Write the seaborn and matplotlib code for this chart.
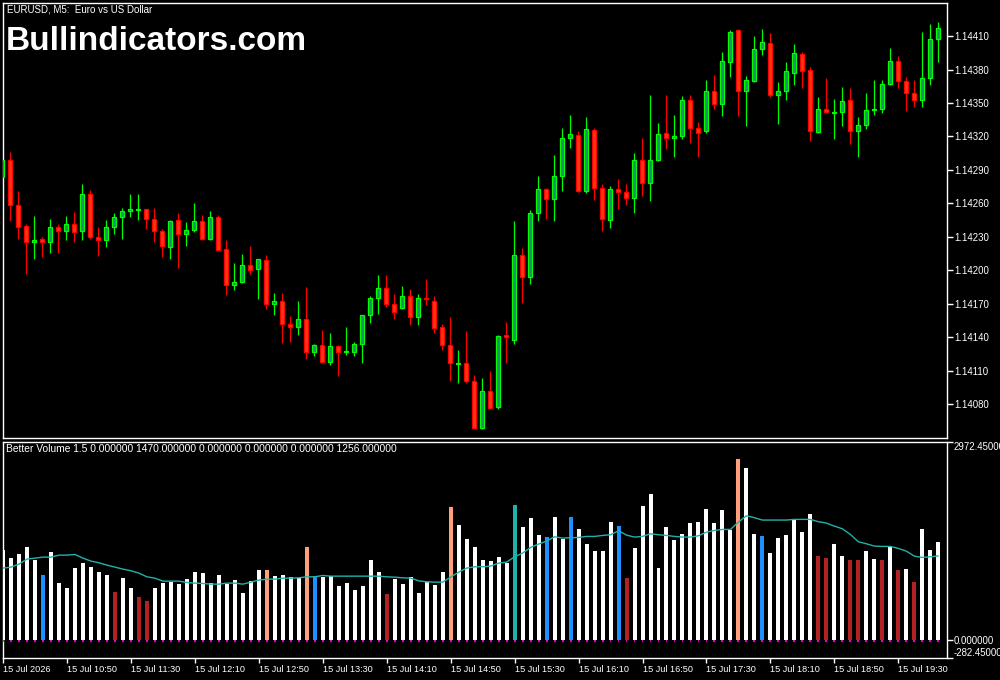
import matplotlib
matplotlib.use("Agg")
import matplotlib.pyplot as plt
import numpy as np
import pandas as pd
import seaborn as sns

# EURUSD M5 candles, prices in points (1e-5) above 1.14000
BASE = 1.14
open_pts = [284, 299, 259, 240, 225, 228, 225, 239, 235, 242,
            235, 268, 230, 227, 239, 248, 253, 254, 255, 246,
            235, 221, 245, 233, 236, 244, 228, 248, 219, 187,
            190, 205, 201, 209, 170, 173, 152, 149, 156, 127,
            133, 118, 132, 127, 127, 134, 160, 175, 184, 170,
            166, 177, 158, 175, 173, 149, 133, 116, 117, 101,
            59, 92, 78, 142, 138, 214, 194, 251, 273, 264,
            285, 319, 321, 271, 326, 274, 245, 273, 270, 265,
            299, 278, 299, 323, 319, 320, 353, 328, 325, 361,
            349, 387, 415, 361, 370, 398, 404, 357, 361, 377,
            394, 380, 324, 345, 341, 342, 353, 325, 330, 344,
            345, 367, 388, 370, 359, 353, 372, 407]
high_pts = [300, 306, 271, 242, 249, 230, 246, 242, 249, 252,
            277, 272, 239, 245, 251, 256, 268, 268, 255, 256,
            237, 245, 251, 243, 260, 250, 253, 250, 227, 207,
            215, 222, 210, 214, 180, 180, 159, 173, 185, 134,
            147, 144, 133, 149, 136, 160, 177, 196, 196, 179,
            186, 183, 179, 192, 177, 152, 158, 129, 146, 106,
            104, 110, 142, 154, 244, 220, 254, 285, 274, 303,
            328, 339, 325, 337, 328, 277, 276, 282, 277, 305,
            319, 357, 332, 357, 339, 356, 357, 333, 371, 375,
            396, 415, 416, 374, 410, 416, 413, 369, 387, 403,
            396, 382, 355, 372, 354, 364, 363, 337, 359, 371,
            371, 399, 392, 373, 371, 414, 421, 423]
low_pts = [283, 244, 228, 197, 210, 212, 216, 216, 227, 225,
           227, 228, 213, 221, 233, 228, 248, 245, 237, 225,
           212, 210, 202, 222, 234, 227, 227, 217, 178, 182,
           189, 197, 174, 165, 160, 135, 136, 142, 121, 123,
           117, 115, 105, 124, 123, 117, 153, 161, 167, 156,
           165, 151, 151, 169, 144, 129, 101, 99, 99, 58,
           58, 76, 76, 117, 134, 171, 188, 244, 246, 244,
           271, 310, 270, 269, 263, 235, 238, 255, 259, 251,
           267, 262, 298, 309, 302, 318, 314, 302, 323, 345,
           338, 373, 338, 329, 369, 393, 355, 331, 353, 366,
           363, 316, 323, 341, 318, 329, 313, 302, 327, 339,
           341, 366, 363, 343, 346, 346, 366, 387]
close_pts = [299, 259, 239, 225, 227, 225, 239, 235, 242, 234,
             268, 230, 227, 239, 248, 253, 255, 255, 246, 235,
             222, 244, 233, 236, 244, 228, 248, 218, 187, 190,
             205, 200, 210, 170, 173, 152, 149, 156, 127, 133,
             118, 132, 127, 128, 134, 160, 175, 184, 170, 163,
             177, 158, 175, 174, 148, 133, 117, 117, 101, 59,
             92, 77, 141, 140, 214, 194, 251, 273, 264, 285,
             319, 322, 271, 327, 274, 246, 273, 270, 265, 299,
             278, 299, 322, 319, 320, 353, 328, 323, 361, 349,
             388, 414, 361, 371, 398, 405, 357, 361, 379, 395,
             379, 325, 345, 342, 342, 352, 325, 330, 344, 345,
             367, 388, 370, 359, 353, 372, 407, 417]

# Better Volume histogram and its average
volume = [1343, 1228, 1283, 1389, 1193, 968, 1313, 847, 772, 1073,
          1148, 1093, 1013, 968, 712, 922, 772, 637, 576, 772,
          847, 867, 832, 907, 1013, 998, 847, 968, 832, 892,
          697, 877, 1043, 1043, 952, 968, 937, 922, 1389, 952,
          937, 952, 802, 847, 742, 802, 1193, 1013, 682, 907,
          832, 937, 697, 862, 817, 1013, 1990, 1719, 1509, 1389,
          1193, 1178, 1238, 1148, 2020, 1689, 1825, 1569, 1539, 1840,
          1514, 1840, 1659, 1434, 1328, 1328, 1765, 1704, 922, 1374,
          2005, 2186, 1073, 1689, 1494, 1584, 1750, 1765, 1960, 1750,
          1945, 1644, 2712, 2577, 1584, 1554, 1298, 1524, 1569, 1795,
          1614, 1885, 1253, 1223, 1434, 1253, 1193, 1193, 1328, 1208,
          1193, 1394, 1043, 1058, 862, 1659, 1343, 1470]
volume_ma = [1073, 1088, 1133, 1208, 1223, 1238, 1238, 1268, 1268, 1278,
             1223, 1178, 1153, 1118, 1088, 1058, 1033, 998, 942, 922,
             877, 877, 877, 857, 847, 842, 832, 832, 847, 847,
             832, 862, 892, 907, 907, 922, 922, 927, 942, 942,
             962, 952, 952, 952, 952, 952, 952, 952, 942, 937,
             927, 922, 882, 867, 862, 862, 937, 1013, 1073, 1093,
             1093, 1103, 1148, 1163, 1243, 1298, 1384, 1434, 1479, 1544,
             1524, 1529, 1534, 1549, 1549, 1564, 1574, 1634, 1569, 1539,
             1549, 1589, 1574, 1564, 1549, 1539, 1539, 1559, 1614, 1639,
             1654, 1654, 1765, 1860, 1830, 1795, 1795, 1795, 1795, 1805,
             1805, 1805, 1770, 1750, 1704, 1664, 1579, 1469, 1439, 1404,
             1399, 1399, 1369, 1328, 1253, 1233, 1243, 1256]
blue_bars = [5, 39, 68, 71, 77, 95]
red_bars = [14, 17, 18, 48, 78, 102, 103, 106, 107, 110, 112, 114]
salmon_bars = [33, 38, 56, 92]
teal_bars = [64]

time_labels = ["15 Jul 2026", "15 Jul 10:50", "15 Jul 11:30", "15 Jul 12:10",
               "15 Jul 12:50", "15 Jul 13:30", "15 Jul 14:10", "15 Jul 14:50",
               "15 Jul 15:30", "15 Jul 16:10", "15 Jul 16:50", "15 Jul 17:30",
               "15 Jul 18:10", "15 Jul 18:50", "15 Jul 19:30"]
price_ticks = [1.14080, 1.14110, 1.14140, 1.14170, 1.14200, 1.14230,
               1.14260, 1.14290, 1.14320, 1.14350, 1.14380, 1.14410]
vol_ticks = [-282.45, 0.0, 2972.45]

sns.set_style("dark", {"axes.facecolor": "black", "figure.facecolor": "black"})
plt.rcParams['font.family'] = ['Liberation Sans', 'DejaVu Sans']

df = pd.DataFrame({'o': open_pts, 'h': high_pts, 'l': low_pts, 'c': close_pts}) * 1e-5 + BASE
df['bar'] = np.arange(len(df))
bull = df['c'] >= df['o']

n = len(volume)
kind = ['white'] * n
for i in blue_bars:
    kind[i] = 'blue'
for i in red_bars:
    kind[i] = 'red'
for i in salmon_bars:
    kind[i] = 'salmon'
for i in teal_bars:
    kind[i] = 'teal'
vol_df = pd.DataFrame({'bar': np.arange(n), 'volume': volume, 'kind': kind})
palette = {'white': '#ffffff', 'blue': '#1e90ff', 'red': '#b22222',
           'salmon': '#ffa07a', 'teal': '#20b2aa'}

fig = plt.figure(figsize=(10, 6.8), dpi=100, facecolor='black')
ax = fig.add_axes([0.003, (680 - 438) / 680, 0.944, 435 / 680])
axv = fig.add_axes([0.003, (680 - 658.3) / 680, 0.944, (658.3 - 441.7) / 680])

# candles
wick_col = np.where(bull, '#00ff00', '#ff0000')
fill_col = np.where(bull, '#208f68', '#ff3311')
ax.vlines(df['bar'], df['l'], df['h'], colors=wick_col, lw=0.9, zorder=2)
body_low = np.minimum(df['o'], df['c'])
body_h = np.maximum((df['c'] - df['o']).abs(), 0.2e-5)
ax.bar(df['bar'], body_h, bottom=body_low, width=0.55, color=fill_col,
       edgecolor=wick_col, linewidth=0.9, zorder=3)

ax.set_xlim(0.09, 118.09)
ax.set_ylim(1.140498, 1.144396)
ax.yaxis.tick_right()
ax.set_yticks(price_ticks)
ax.set_yticklabels([f"{p:.5f}" for p in price_ticks])
ax.tick_params(axis='y', colors='white', labelcolor='white', length=4, width=1,
               pad=1, labelsize=6.9, right=True, left=False)
ax.tick_params(axis='x', bottom=False, labelbottom=False)
ax.grid(False)
for s in ax.spines.values():
    s.set_color('white')
    s.set_linewidth(1)

# volume panel
sns.barplot(data=vol_df, x='bar', y='volume', hue='kind', palette=palette,
            dodge=False, width=0.5, errorbar=None, legend=False, saturation=1,
            linewidth=0, ax=axv)
axv.plot(np.arange(n), volume_ma, color='#20b2aa', lw=1, zorder=4)
axv.hlines([-15] * n, np.arange(n) - 0.12, np.arange(n) + 0.12,
           colors='magenta', lw=1.3, zorder=4)
axv.set_xlim(0.09, 118.09)
axv.set_ylim(-282.45, 2972.45)
axv.yaxis.tick_right()
axv.set_yticks(vol_ticks)
axv.set_yticklabels([f"{v:.6f}" for v in vol_ticks])
labs = axv.get_yticklabels()
labs[0].set_va('bottom')
labs[2].set_va('top')
axv.tick_params(axis='y', colors='white', labelcolor='white', length=4, width=1,
                pad=1, labelsize=6.9, right=True, left=False)
axv.set_xticks(range(0, n, 8))
axv.set_xticklabels(time_labels, ha='left')
axv.tick_params(axis='x', colors='white', labelcolor='white', length=3.5, width=1,
                pad=1.5, labelsize=6.6, bottom=True)
axv.set_xlabel('')
axv.set_ylabel('')
axv.grid(False)
for s in axv.spines.values():
    s.set_color('white')
    s.set_linewidth(1)

fig.text(0.007, 1 - 5 / 680, "EURUSD, M5:  Euro vs US Dollar", color='white',
         fontsize=7.0, va='top', ha='left')
fig.text(0.006, 1 - 50 / 680, "Bullindicators.com", color='white',
         fontsize=24, fontweight='bold', va='baseline', ha='left')
fig.text(0.006, 1 - 444 / 680,
         "Better Volume 1.5 0.000000 1470.000000 0.000000 0.000000 0.000000 1256.000000",
         color='white', fontsize=7.4, va='top', ha='left')

fig.savefig("out.png", dpi=100, facecolor='black')
